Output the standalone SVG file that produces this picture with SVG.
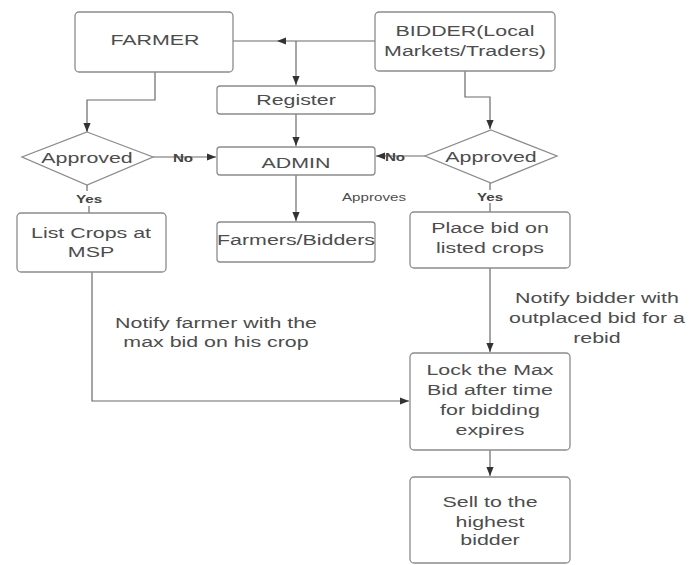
<svg xmlns="http://www.w3.org/2000/svg" width="689" height="565" viewBox="0 0 689 565">
<style>
.box{fill:#fff;stroke:#8c8c8c;stroke-width:1.3}
.t{font-family:"Liberation Sans",Arial,sans-serif;font-size:15.5px;fill:#4d4d4d;text-anchor:middle}
.s{font-family:"Liberation Sans",Arial,sans-serif;font-size:11px;fill:#4d4d4d;text-anchor:middle}
.b{font-weight:bold;fill:#444}
.c{fill:none;stroke:#6a6a6a;stroke-width:1.2}
</style>
<defs>
<marker id="ah" viewBox="0 0 10 10" refX="10" refY="5" markerWidth="9" markerHeight="9" markerUnits="userSpaceOnUse" orient="auto">
<path d="M0,1 L10,5 L0,9 Z" fill="#333"/>
</marker>
</defs>
<rect width="689" height="565" fill="#fff"/>
<g id="connectors">
<path class="c" d="M155,72 V100 H87 V132" marker-end="url(#ah)"/>
<path class="c" d="M465,71 V97 H490 V129" marker-end="url(#ah)"/>
<path class="c" d="M375,41 H277" marker-end="url(#ah)"/>
<path class="c" d="M277,41 H233"/>
<path class="c" d="M296,41 V85" marker-end="url(#ah)"/>
<path class="c" d="M296,114 V146" marker-end="url(#ah)"/>
<path class="c" d="M296,175 V221" marker-end="url(#ah)"/>
<path class="c" d="M153,157 H216" marker-end="url(#ah)"/>
<path class="c" d="M425,156 H376" marker-end="url(#ah)"/>
<path class="c" d="M87,185 V191"/>
<path class="c" d="M89,206 V213"/>
<path class="c" d="M490,183 V190"/>
<path class="c" d="M490,203 V212"/>
<path class="c" d="M490,268 V352" marker-end="url(#ah)"/>
<path class="c" d="M92,272 V401 H409" marker-end="url(#ah)"/>
<path class="c" d="M490,450 V476" marker-end="url(#ah)"/>
</g>
<g id="farmer">
<rect class="box" x="75" y="12" width="158" height="60" rx="4"/>
<text class="t" transform="translate(155,45) scale(1.38,1)">FARMER</text>
</g>
<g id="bidder">
<rect class="box" x="375" y="12" width="180" height="59" rx="4"/>
<text class="t" transform="translate(465,36) scale(1.38,1)">BIDDER(Local</text>
<text class="t" transform="translate(465,56) scale(1.38,1)">Markets/Traders)</text>
</g>
<g id="register">
<rect class="box" x="217" y="86" width="158" height="28" rx="3"/>
<text class="t" transform="translate(296,105) scale(1.38,1)">Register</text>
</g>
<g id="admin">
<rect class="box" x="217" y="147" width="158" height="28" rx="3"/>
<text class="t" transform="translate(296,168) scale(1.38,1)">ADMIN</text>
</g>
<g id="approved-farmer">
<polygon class="box" points="87,132 153,157 87,185 22,157"/>
<text class="t" transform="translate(87,163) scale(1.38,1)">Approved</text>
</g>
<g id="approved-bidder">
<polygon class="box" points="491,130 557,156 491,183 425,156"/>
<text class="t" transform="translate(491,162) scale(1.38,1)">Approved</text>
</g>
<g id="farmers-bidders">
<rect class="box" x="217" y="222" width="158" height="40" rx="3"/>
<text class="t" transform="translate(296,245) scale(1.38,1)">Farmers/Bidders</text>
</g>
<g id="list-crops">
<rect class="box" x="17" y="213" width="149" height="59" rx="4"/>
<text class="t" transform="translate(91,238) scale(1.38,1)">List Crops at</text>
<text class="t" transform="translate(91,257) scale(1.38,1)">MSP</text>
</g>
<g id="place-bid">
<rect class="box" x="410" y="212" width="160" height="56" rx="4"/>
<text class="t" transform="translate(490,233) scale(1.38,1)">Place bid on</text>
<text class="t" transform="translate(490,253) scale(1.38,1)">listed crops</text>
</g>
<g id="lock">
<rect class="box" x="410" y="353" width="160" height="97" rx="4"/>
<text class="t" transform="translate(490,375) scale(1.38,1)">Lock the Max</text>
<text class="t" transform="translate(490,395) scale(1.38,1)">Bid after time</text>
<text class="t" transform="translate(490,415) scale(1.38,1)">for bidding</text>
<text class="t" transform="translate(490,435) scale(1.38,1)">expires</text>
</g>
<g id="sell">
<rect class="box" x="410" y="477" width="160" height="86" rx="4"/>
<text class="t" transform="translate(490,507) scale(1.38,1)">Sell to the</text>
<text class="t" transform="translate(490,527) scale(1.38,1)">highest</text>
<text class="t" transform="translate(490,545) scale(1.38,1)">bidder</text>
</g>
<g id="labels">
<text class="s b" transform="translate(183,162) scale(1.38,1)">No</text>
<text class="s b" transform="translate(395,161) scale(1.38,1)">No</text>
<text class="s b" transform="translate(89,203) scale(1.38,1)">Yes</text>
<text class="s b" transform="translate(490,201) scale(1.38,1)">Yes</text>
<text class="s" transform="translate(374,201) scale(1.38,1)">Approves</text>
<text class="t" transform="translate(216,328) scale(1.38,1)">Notify farmer with the</text>
<text class="t" transform="translate(216,347) scale(1.38,1)">max bid on his crop</text>
<text class="t" transform="translate(597,303) scale(1.38,1)">Notify bidder with</text>
<text class="t" transform="translate(597,323) scale(1.38,1)">outplaced bid for a</text>
<text class="t" transform="translate(597,343) scale(1.38,1)">rebid</text>
</g>
</svg>
